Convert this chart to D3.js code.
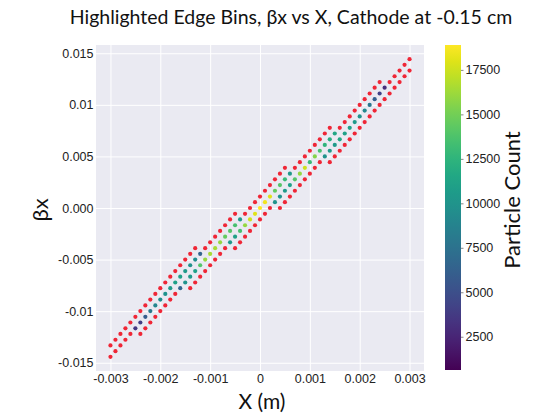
<!DOCTYPE html>
<html>
<head>
<meta charset="utf-8">
<script src="https://cdn.jsdelivr.net/npm/d3@7"></script>
<style>
  html, body { margin: 0; padding: 0; background: #ffffff; }
  svg { display: block; }
</style>
</head>
<body>
<svg id="chart" width="536" height="415"></svg>
<script>
// ---- data ----
const titleText = "Highlighted Edge Bins, \u03b2x vs X, Cathode at -0.15 cm";
const xLabel = "X (m)";
const yLabel = "\u03b2x";
const cbLabel = "Particle Count";

const xTicks = [-0.003, -0.002, -0.001, 0, 0.001, 0.002, 0.003];
const xTickLabels = ["-0.003", "-0.002", "-0.001", "0", "0.001", "0.002", "0.003"];
const yTicks = [0.015, 0.01, 0.005, 0, -0.005, -0.01, -0.015];
const yTickLabels = ["0.015", "0.01", "0.005", "0.000", "-0.005", "-0.01", "-0.015"];
const cbTicks = [2500, 5000, 7500, 10000, 12500, 15000, 17500];
const countRange = [630, 18900];

// βx bin centre of each occupied row (top to bottom)
const betaRows = [
  0.01443, 0.01388, 0.01332, 0.01277, 0.01221, 0.01166, 0.01110, 0.01055, 0.00999, 0.00944,
  0.00888, 0.00833, 0.00777, 0.00722, 0.00666, 0.00611, 0.00555, 0.00500, 0.00444, 0.00389,
  0.00333, 0.00278, 0.00222, 0.00167, 0.00111, 0.00056, 0,
  -0.00056, -0.00111, -0.00167, -0.00222, -0.00278, -0.00333, -0.00389, -0.00444, -0.00500,
  -0.00555, -0.00611, -0.00666, -0.00722, -0.00777, -0.00833, -0.00888, -0.00944, -0.00999,
  -0.01055, -0.01110, -0.01166, -0.01221, -0.01277, -0.01332, -0.01388, -0.01443
];
// X bin centres of the occupied bins in each row
const xRows = [
  [0.0030],
  [0.0029],
  [0.0028, 0.0030],
  [0.0027, 0.0029],
  [0.0024, 0.0026, 0.0028],
  [0.0023, 0.0025, 0.0027],
  [0.0022, 0.0024, 0.0026],
  [0.0021, 0.0023, 0.0025],
  [0.0020, 0.0022, 0.0024],
  [0.0019, 0.0021, 0.0023],
  [0.0018, 0.0020, 0.0022],
  [0.0017, 0.0019, 0.0021],
  [0.0014, 0.0016, 0.0018, 0.0020],
  [0.0013, 0.0015, 0.0017, 0.0019],
  [0.0012, 0.0014, 0.0016, 0.0018],
  [0.0011, 0.0013, 0.0015, 0.0017],
  [0.0010, 0.0012, 0.0014, 0.0016],
  [0.0009, 0.0011, 0.0013, 0.0015],
  [0.0008, 0.0010, 0.0012, 0.0014],
  [0.0005, 0.0007, 0.0009, 0.0011],
  [0.0004, 0.0006, 0.0008, 0.0010],
  [0.0003, 0.0005, 0.0007, 0.0009],
  [0.0002, 0.0004, 0.0006, 0.0008],
  [0.0001, 0.0003, 0.0005, 0.0007],
  [0.0000, 0.0002, 0.0004, 0.0006],
  [-0.0001, 0.0001, 0.0003, 0.0005],
  [-0.0002, 0.0000, 0.0002, 0.0004],
  [-0.0005, -0.0003, -0.0001, 0.0001],
  [-0.0006, -0.0004, -0.0002, 0.0000],
  [-0.0007, -0.0005, -0.0003, -0.0001],
  [-0.0008, -0.0006, -0.0004, -0.0002],
  [-0.0009, -0.0007, -0.0005, -0.0003],
  [-0.0010, -0.0008, -0.0006, -0.0004],
  [-0.0013, -0.0011, -0.0009, -0.0007, -0.0005],
  [-0.0014, -0.0012, -0.0010, -0.0008],
  [-0.0015, -0.0013, -0.0011, -0.0009],
  [-0.0016, -0.0014, -0.0012, -0.0010],
  [-0.0017, -0.0015, -0.0013, -0.0011],
  [-0.0018, -0.0016, -0.0014, -0.0012],
  [-0.0019, -0.0017, -0.0015, -0.0013],
  [-0.0020, -0.0018, -0.0016, -0.0014],
  [-0.0021, -0.0019, -0.0017],
  [-0.0022, -0.0020, -0.0018],
  [-0.0023, -0.0021, -0.0019],
  [-0.0024, -0.0022, -0.0020],
  [-0.0025, -0.0023, -0.0021],
  [-0.0026, -0.0024, -0.0022],
  [-0.0027, -0.0025, -0.0023],
  [-0.0028, -0.0026, -0.0024],
  [-0.0029, -0.0027],
  [-0.0030, -0.0028],
  [-0.0029],
  [-0.0030]
];
// particle count of each bin; null = highlighted edge bin (drawn red)
const countRows = [
  [null],
  [null],
  [null, null],
  [null, null],
  [null, null, null],
  [null, 3000, null],
  [null, 4200, null],
  [null, 6000, null],
  [null, 7800, null],
  [null, 9200, null],
  [null, 10000, null],
  [null, 10500, null],
  [null, null, 11000, null],
  [null, 11500, 11000, null],
  [null, 12000, 11500, null],
  [null, 12500, 10500, null],
  [null, 13500, 10500, null],
  [null, 15500, 10000, null],
  [null, 13000, null, null],
  [null, null, 17500, null],
  [null, 10500, 16000, null],
  [null, 13000, 14000, null],
  [null, 14000, 11000, null],
  [null, 14500, 10500, null],
  [null, 18000, 10000, null],
  [null, 18500, 10000, null],
  [null, 18900, null, null],
  [null, null, 18000, null],
  [null, 10500, 17500, null],
  [null, 13500, 16000, null],
  [null, 14000, 13500, null],
  [null, 14500, 11000, null],
  [null, 16000, 10500, null],
  [null, null, 16500, null, null],
  [null, 6500, 16500, null],
  [null, 9500, 16000, null],
  [null, 10000, 14000, null],
  [null, 10500, 11000, null],
  [null, 11000, 10500, null],
  [null, 11000, 10000, null],
  [null, 10500, 6500, null],
  [null, 10000, null],
  [null, 9500, null],
  [null, 9000, null],
  [null, 8000, null],
  [null, 6000, null],
  [null, 4000, null],
  [null, 3500, null],
  [null, null, null],
  [null, null],
  [null, null],
  [null],
  [null]
];

// ---- build point table ----
const points = [];
betaRows.forEach((b, r) => {
  xRows[r].forEach((x, k) => points.push({ x: x, b: b, c: countRows[r][k] }));
});

// ---- layout ----
const svg = d3.select("#chart");
const plot = { left: 96, right: 424, top: 45, bottom: 371 };
const x = d3.scaleLinear().domain([-0.00329, 0.00329]).range([plot.left, plot.right]);
const y = d3.scaleLinear().domain([-0.0158, 0.0158]).range([plot.bottom, plot.top]);
const color = d3.scaleSequential(d3.interpolateViridis).domain(countRange);

const tickFont = "'Liberation Sans', Arial, sans-serif";
const labelFont = "Lato, 'Noto Sans', sans-serif";

svg.append("rect").attr("width", 536).attr("height", 415).attr("fill", "#ffffff");

// plot background
svg.append("rect")
  .attr("x", plot.left).attr("y", plot.top)
  .attr("width", plot.right - plot.left).attr("height", plot.bottom - plot.top)
  .attr("fill", "#eaeaf2");

// grid lines via axes
const gx = svg.append("g")
  .attr("transform", `translate(0,${plot.bottom})`)
  .call(d3.axisBottom(x).tickValues(xTicks).tickSize(-(plot.bottom - plot.top))
    .tickFormat((d, i) => xTickLabels[i]).tickPadding(3));
gx.select(".domain").remove();
gx.selectAll("line").attr("stroke", "#ffffff").attr("stroke-width", 1);
gx.selectAll("text").attr("font-family", tickFont).attr("font-size", 12.5)
  .attr("fill", "#222").attr("dy", "0.75em");

const gy = svg.append("g")
  .attr("transform", `translate(${plot.left},0)`)
  .call(d3.axisLeft(y).tickValues(yTicks).tickSize(-(plot.right - plot.left))
    .tickFormat((d, i) => yTickLabels[i]).tickPadding(2.5));
gy.select(".domain").remove();
gy.selectAll("line").attr("stroke", "#ffffff").attr("stroke-width", 1);
gy.selectAll("text").attr("font-family", tickFont).attr("font-size", 12.5).attr("fill", "#222");

// bins
svg.append("g").selectAll("circle")
  .data(points)
  .join("circle")
  .attr("cx", d => x(d.x))
  .attr("cy", d => y(d.b))
  .attr("r", 2.1)
  .attr("fill", d => d.c === null ? "#ef2636" : color(d.c));

// title and axis titles
svg.append("text")
  .attr("x", 291).attr("y", 24)
  .attr("text-anchor", "middle")
  .attr("font-family", labelFont).attr("font-size", 19.5).attr("fill", "#111")
  .text(titleText);

svg.append("text")
  .attr("x", 262).attr("y", 409)
  .attr("text-anchor", "middle")
  .attr("font-family", labelFont).attr("font-size", 21).attr("fill", "#111")
  .text(xLabel);

svg.append("text")
  .attr("transform", "translate(48,210) rotate(-90)")
  .attr("text-anchor", "middle")
  .attr("font-family", labelFont).attr("font-size", 22).attr("fill", "#111")
  .text(yLabel);

// colorbar
const cb = { x: 445, w: 16, top: 45, bottom: 370 };
const cbScale = d3.scaleLinear().domain(countRange).range([cb.bottom, cb.top]);
const defs = svg.append("defs");
const grad = defs.append("linearGradient").attr("id", "vir")
  .attr("x1", 0).attr("y1", 1).attr("x2", 0).attr("y2", 0);
d3.range(0, 1.0001, 0.05).forEach(t => {
  grad.append("stop").attr("offset", t).attr("stop-color", d3.interpolateViridis(t));
});
svg.append("rect")
  .attr("x", cb.x).attr("y", cb.top).attr("width", cb.w).attr("height", cb.bottom - cb.top)
  .attr("fill", "url(#vir)");

const gcb = svg.append("g")
  .attr("transform", `translate(${cb.x + cb.w},0)`)
  .call(d3.axisRight(cbScale).tickValues(cbTicks).tickSize(2.5).tickPadding(2).tickFormat(d3.format("d")));
gcb.select(".domain").remove();
gcb.selectAll("line").attr("stroke", "#888");
gcb.selectAll("text").attr("font-family", tickFont).attr("font-size", 12.5).attr("fill", "#222");

svg.append("text")
  .attr("transform", "translate(520,200) rotate(-90)")
  .attr("text-anchor", "middle")
  .attr("font-family", labelFont).attr("font-size", 22).attr("fill", "#111")
  .text(cbLabel);
</script>
</body>
</html>
